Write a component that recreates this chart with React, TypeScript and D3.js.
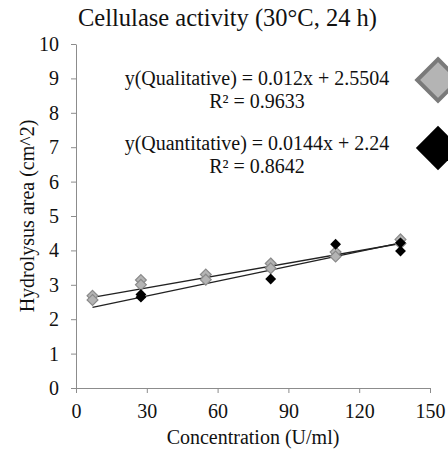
import React, { useEffect, useRef } from 'react';
import * as d3 from 'd3';

// qualitative measurements (x = concentration U/ml, y = area)
const qualX = [7, 7, 27.5, 27.5, 55, 55, 82.5, 82.5, 110, 110, 137.5, 137.5];
const qualY = [2.68, 2.56, 3.14, 3.0, 3.3, 3.15, 3.62, 3.48, 3.95, 3.82, 4.32, 4.2];
// quantitative measurements
const quanX = [27.5, 27.5, 82.5, 110, 137.5, 137.5];
const quanY = [2.72, 2.64, 3.17, 4.18, 4.22, 3.98];

const xTicks = [0, 30, 60, 90, 120, 150];
const yTicks = [0, 1, 2, 3, 4, 5, 6, 7, 8, 9, 10];

// trendlines from the equations
const qualFit = { a: 0.012, b: 2.5504, r2: '0.9633' };
const quanFit = { a: 0.0144, b: 2.24, r2: '0.8642' };
const fitRange = [7, 137.5];

const App = () => {
  const ref = useRef<SVGSVGElement>(null);

  useEffect(() => {
    const svg = d3.select(ref.current);
    svg.selectAll('*').remove();

    const font = "'Liberation Serif', 'DejaVu Serif', serif";

    const x = d3.scaleLinear().domain([0, 150]).range([76, 430]);
    const y = d3.scaleLinear().domain([0, 10]).range([388, 44]);

    // axes
    const xAxis = svg.append('g')
      .attr('transform', `translate(0, ${y(0)})`)
      .call(d3.axisBottom(x).tickValues(xTicks).tickSize(5).tickSizeOuter(0));
    xAxis.select('.domain').attr('stroke', '#8c8c8c');
    xAxis.selectAll('line').attr('stroke', '#8c8c8c');
    xAxis.selectAll('text')
      .style('font-family', font).style('font-size', '20px').attr('fill', '#111').attr('dy', '1.1em');

    const yAxis = svg.append('g')
      .attr('transform', `translate(${x(0)}, 0)`)
      .call(d3.axisLeft(y).tickValues(yTicks).tickSize(5).tickSizeOuter(0));
    yAxis.select('.domain').attr('stroke', '#8c8c8c');
    yAxis.selectAll('line').attr('stroke', '#8c8c8c');
    yAxis.selectAll('text')
      .style('font-family', font).style('font-size', '20px').attr('fill', '#111').attr('x', -17);

    // trendlines
    const line = d3.line<number>().x(d => x(d)).y(d => y(0));
    [qualFit, quanFit].forEach(f => {
      svg.append('path')
        .attr('d', line.y(d => y(f.a * d + f.b))(fitRange))
        .attr('fill', 'none')
        .attr('stroke', '#222')
        .attr('stroke-width', 1.3);
    });

    const diamond = d3.symbol().type(d3.symbolDiamond2);

    // qualitative points
    svg.append('g').selectAll('path')
      .data(qualX.map((d, i) => [d, qualY[i]]))
      .enter().append('path')
      .attr('d', diamond.size(75)())
      .attr('transform', d => `translate(${x(d[0])}, ${y(d[1])})`)
      .attr('fill', '#b4b4b4')
      .attr('stroke', '#8a8a8a')
      .attr('stroke-width', 1.2);

    // quantitative points
    svg.append('g').selectAll('path')
      .data(quanX.map((d, i) => [d, quanY[i]]))
      .enter().append('path')
      .attr('d', diamond.size(75)())
      .attr('transform', d => `translate(${x(d[0])}, ${y(d[1])})`)
      .attr('fill', '#000');

    // legend
    svg.append('path')
      .attr('d', diamond.size(1100)())
      .attr('transform', 'translate(438, 80)')
      .attr('fill', '#b4b4b4').attr('stroke', '#7a7a7a').attr('stroke-width', 4);
    svg.append('path')
      .attr('d', diamond.size(1250)())
      .attr('transform', 'translate(438, 148)')
      .attr('fill', '#000');

    const labels = [
      { t: `y(Qualitative) = ${qualFit.a}x + ${qualFit.b}`, y: 85 },
      { t: `R² = ${qualFit.r2}`, y: 108 },
      { t: `y(Quantitative) = ${quanFit.a}x + ${quanFit.b}`, y: 150 },
      { t: `R² = ${quanFit.r2}`, y: 173 },
    ];
    svg.selectAll('text.lab')
      .data(labels)
      .enter().append('text')
      .attr('class', 'lab')
      .attr('x', 257).attr('y', d => d.y)
      .attr('text-anchor', 'middle')
      .style('font-family', font).style('font-size', '20px').attr('fill', '#111')
      .text(d => d.t);

    // titles
    svg.append('text')
      .attr('x', 78).attr('y', 26)
      .style('font-family', font).style('font-size', '24.5px').attr('fill', '#111')
      .text('Cellulase activity (30°C, 24 h)');

    svg.append('text')
      .attr('x', 253).attr('y', 444)
      .attr('text-anchor', 'middle')
      .style('font-family', font).style('font-size', '20px').attr('fill', '#111')
      .text('Concentration (U/ml)');

    svg.append('text')
      .attr('transform', 'rotate(-90)')
      .attr('x', -216).attr('y', 34)
      .attr('text-anchor', 'middle')
      .style('font-family', font).style('font-size', '20px').attr('fill', '#111')
      .text('Hydrolysus area (cm^2)');
  }, []);

  return (
    <svg ref={ref} width={448} height={451}
      style={{ position: 'absolute', left: 0, top: 0, background: '#fff' }} />
  );
};

export default App;
